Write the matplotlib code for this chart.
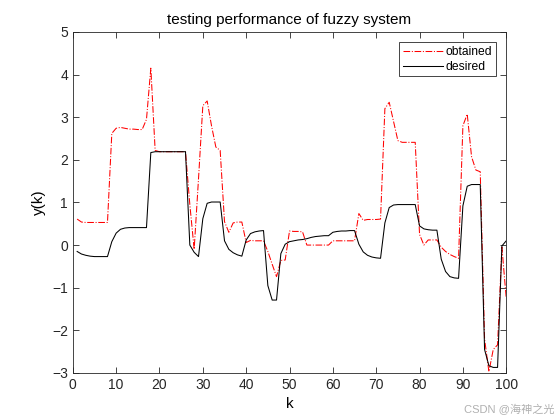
import numpy as np
import matplotlib.pyplot as plt

plt.rcParams['font.family'] = ['Liberation Sans', 'Noto Sans CJK SC', 'DejaVu Sans']

k = np.arange(1, 101)

desired = [-0.15, -0.21, -0.24, -0.26, -0.27, -0.27, -0.27, -0.27, 0.08, 0.28,
           0.37, 0.40, 0.41, 0.41, 0.41, 0.41, 0.41, 2.17, 2.19, 2.19,
           2.19, 2.19, 2.19, 2.19, 2.19, 2.19, 0.00, -0.17, -0.27, 0.62,
           0.98, 1.01, 1.01, 1.01, 0.10, -0.10, -0.18, -0.23, -0.26, 0.12,
           0.27, 0.31, 0.33, 0.34, -0.95, -1.29, -1.29, -0.20, 0.02, 0.08,
           0.10, 0.12, 0.13, 0.15, 0.18, 0.20, 0.21, 0.22, 0.22, 0.30,
           0.32, 0.33, 0.33, 0.34, 0.34, 0.02, -0.16, -0.24, -0.28, -0.30,
           -0.31, 0.52, 0.88, 0.94, 0.95, 0.95, 0.95, 0.95, 0.95, 0.45,
           0.38, 0.36, 0.35, 0.35, -0.33, -0.62, -0.74, -0.77, -0.78, 0.92,
           1.38, 1.42, 1.42, 1.42, -2.45, -2.83, -2.87, -2.87, -0.02, 0.10]

obtained = [0.61, 0.54, 0.53, 0.53, 0.53, 0.53, 0.53, 0.53, 2.62, 2.74,
            2.76, 2.74, 2.72, 2.72, 2.71, 2.71, 2.95, 4.15, 2.22, 2.19,
            2.19, 2.19, 2.19, 2.19, 2.19, 2.19, 0.95, -0.10, 1.55, 3.27,
            3.38, 2.80, 2.30, 2.22, 0.55, 0.30, 0.52, 0.54, 0.54, 0.06,
            0.11, 0.10, 0.10, 0.10, -0.15, -0.45, -0.74, -0.36, -0.35, 0.33,
            0.32, 0.32, 0.31, 0.00, 0.00, 0.00, 0.00, 0.00, 0.00, 0.10,
            0.10, 0.10, 0.10, 0.10, 0.10, 0.74, 0.58, 0.60, 0.60, 0.60,
            0.61, 3.20, 3.35, 2.90, 2.45, 2.41, 2.41, 2.41, 2.41, 0.25,
            0.00, 0.12, 0.12, 0.12, -0.05, -0.15, -0.22, -0.27, -0.31, 2.80,
            3.07, 2.07, 1.76, 1.72, -2.20, -2.97, -2.45, -2.34, -0.05, -1.25]

fig = plt.figure(figsize=(5.6, 4.2), dpi=100)
ax = fig.add_axes([0.13, 0.112, 0.774, 0.812])
ax.plot(k, obtained, 'r-.', linewidth=0.75, label='obtained')
ax.plot(k, desired, 'k-', linewidth=0.75, label='desired')

ax.set_xlim(0, 100)
ax.set_ylim(-3, 5)
ax.set_xticks(np.arange(0, 101, 10))
ax.set_yticks(np.arange(-3, 6, 1))
ax.tick_params(direction='in', top=True, right=True, length=4, width=0.6,
               labelsize=10, colors='#262626')
for s in ax.spines.values():
    s.set_linewidth(0.6)
    s.set_color('#262626')

ax.set_title('testing performance of fuzzy system', fontsize=11, color='#000000')
ax.set_xlabel('k', fontsize=11)
ax.set_ylabel('y(k)', fontsize=11)

leg = ax.legend(loc='upper right', fontsize=8.7, fancybox=False, framealpha=1,
                edgecolor='#262626', handlelength=3.3, handletextpad=0.25,
                borderpad=0.3, labelspacing=0.25, borderaxespad=0.85)
leg.get_frame().set_linewidth(0.6)

fig.text(0.99, 0.012, 'CSDN @海神之光', ha='right', va='bottom', fontsize=8,
         color='#b0b0b0')

fig.savefig('out.png', dpi=100)
